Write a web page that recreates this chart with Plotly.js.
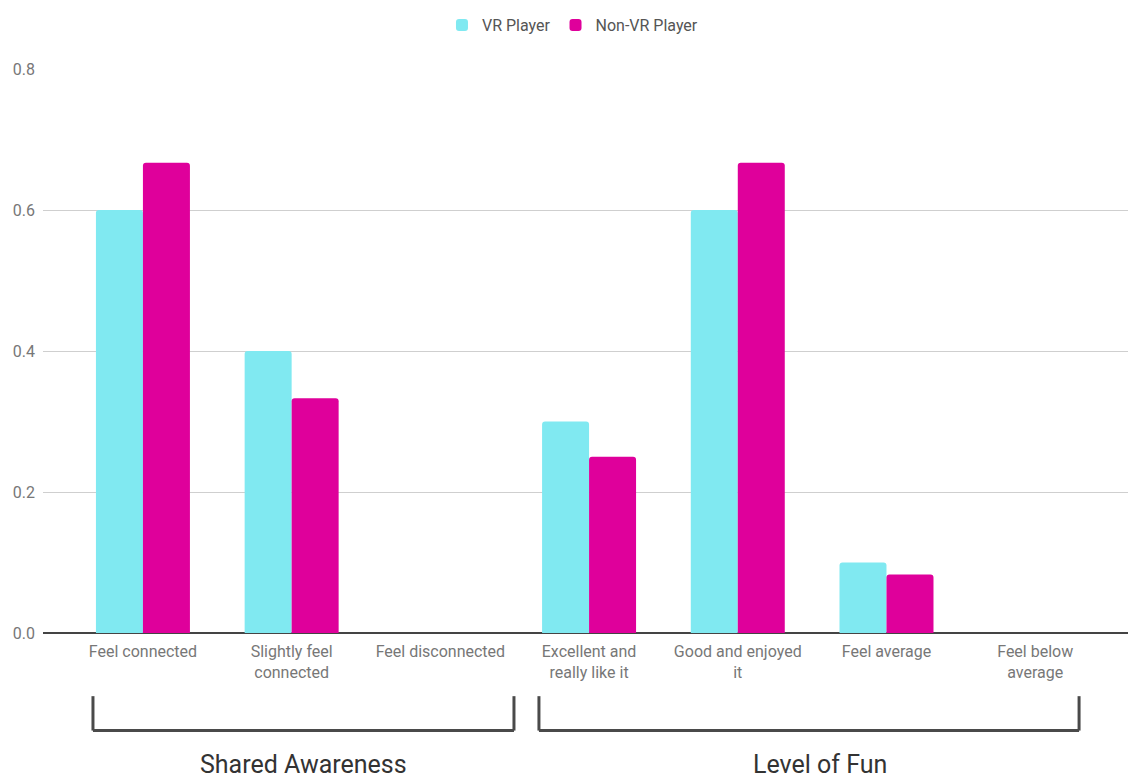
<!DOCTYPE html>
<html>
<head>
<meta charset="utf-8">
<script src="https://cdn.plot.ly/plotly-3.0.1.min.js"></script>
<style>html,body{margin:0;padding:0;background:#fff;}#chart{width:1129px;height:778px;}</style>
</head>
<body>
<div id="chart"></div>
<script>
const categories = ["Feel connected", "Slightly feel<br>connected", "Feel disconnected", "Excellent and<br>really like it", "Good and enjoyed<br>it", "Feel average", "Feel below<br>average"];
const vrPlayer = [0.6, 0.4, 0, 0.3, 0.6, 0.1, 0];
const nonVrPlayer = [0.667, 0.333, 0, 0.25, 0.667, 0.083, 0];
const seriesNames = ["VR Player", "Non-VR Player"];
const groupLabels = ["Shared Awareness", "Level of Fun"];
const yTicks = [0, 0.2, 0.4, 0.6, 0.8];

const idx = categories.map((_, i) => i);

const traces = [
  {type: 'bar', name: seriesNames[0], x: idx, y: vrPlayer, marker: {color: '#80e9f1', cornerradius: 3}, hoverinfo: 'y'},
  {type: 'bar', name: seriesNames[1], x: idx, y: nonVrPlayer, marker: {color: '#df009b', cornerradius: 3}, hoverinfo: 'y'}
];

const bracketColor = '#4a4a4a';
function bracket(x0, x1) {
  const yTop = -0.112, yBot = -0.173;
  const common = {type: 'line', xref: 'x', yref: 'paper', line: {color: bracketColor, width: 3}};
  return [
    Object.assign({x0: x0, x1: x0, y0: yTop, y1: yBot}, common),
    Object.assign({x0: x1, x1: x1, y0: yTop, y1: yBot}, common),
    Object.assign({x0: x0, x1: x1, y0: yBot, y1: yBot}, common)
  ];
}

const layout = {
  width: 1129, height: 778,
  margin: {l: 43, r: 1, t: 69, b: 145},
  paper_bgcolor: '#ffffff', plot_bgcolor: '#ffffff',
  font: {family: 'Roboto, "Noto Sans", sans-serif', color: '#757575', size: 15},
  barmode: 'group', bargap: 0.368, bargroupgap: 0,
  showlegend: true,
  legend: {orientation: 'h', x: 0.488, xanchor: 'center', y: 1.078, yanchor: 'middle',
           font: {size: 16, color: '#555'}, itemwidth: 30, traceorder: 'normal'},
  xaxis: {
    tickmode: 'array', tickvals: idx, ticktext: categories,
    range: [-0.672, 6.624], showgrid: false, zeroline: false,
    showline: false, ticks: '', ticklabelstandoff: 7, tickfont: {size: 16, color: '#777'},
    fixedrange: true
  },
  yaxis: {
    range: [0, 0.8], tickmode: 'array', tickvals: yTicks,
    ticktext: yTicks.map(v => v.toFixed(1)),
    showgrid: true, gridcolor: '#cfcfcf', gridwidth: 1,
    zeroline: true, zerolinecolor: '#444', zerolinewidth: 2,
    ticks: '', ticklabelstandoff: 7, tickfont: {size: 16, color: '#777'},
    fixedrange: true
  },
  shapes: [].concat(bracket(-0.336, 2.495), bracket(2.663, 6.295)),
  annotations: [
    {text: groupLabels[0], xref: 'x', yref: 'paper', x: 1.08, y: -0.233, yanchor: 'middle', showarrow: false, font: {size: 25, color: '#333'}},
    {text: groupLabels[1], xref: 'x', yref: 'paper', x: 4.55, y: -0.233, yanchor: 'middle', showarrow: false, font: {size: 25, color: '#333'}}
  ]
};

Plotly.newPlot('chart', traces, layout, {displayModeBar: false, staticPlot: true});
</script>
</body>
</html>
